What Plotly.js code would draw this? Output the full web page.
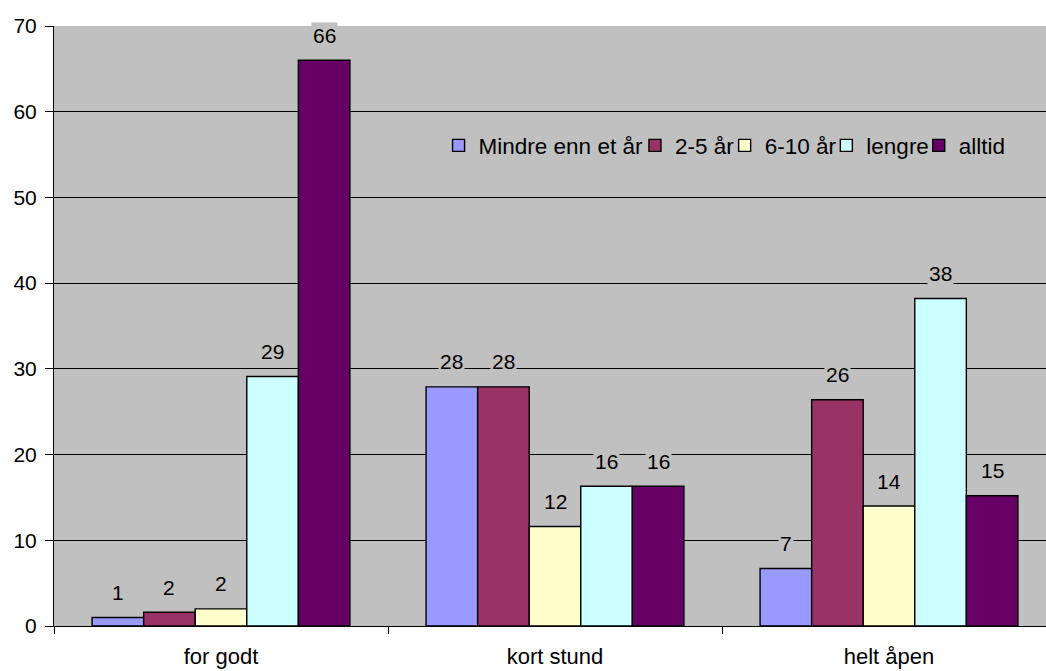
<!DOCTYPE html>
<html><head><meta charset="utf-8">
<script src="https://cdn.plot.ly/plotly-3.0.1.min.js"></script>
<style>html,body{margin:0;padding:0;overflow:hidden;background:#fff}#chart{width:1056px;height:671px}</style>
</head><body><div id="chart"></div>
<script>
const categories = ["for godt", "kort stund", "helt åpen"];
const seriesNames = ["Mindre enn et år", "2-5 år", "6-10 år", "lengre", "alltid"];
const mindreEnnEtAr = [1.0, 27.9, 6.7];
const toFemAr = [1.6, 27.9, 26.4];
const seksTiAr = [2.0, 11.6, 14.0];
const lengre = [29.1, 16.3, 38.2];
const alltid = [66.0, 16.3, 15.2];
const colors = ["#9999FF", "#993366", "#FFFFCC", "#CCFFFF", "#660066"];
const yTicks = [0, 10, 20, 30, 40, 50, 60, 70];

const series = [mindreEnnEtAr, toFemAr, seksTiAr, lengre, alltid];
const font = "Liberation Sans, Arial, sans-serif";
const legendIds = ["legend", "legend2", "legend3", "legend4", "legend5"];
const legendX = [0.3838, 0.5798, 0.6693, 0.7708, 0.8630];

const traces = series.map((vals, i) => ({
  type: "bar", x: categories, y: vals, name: seriesNames[i],
  legend: legendIds[i],
  marker: {color: colors[i], line: {color: "#000", width: 1.4}},
  hoverinfo: "none"
}));

const annotations = [];
series.forEach((vals, i) => {
  vals.forEach((v, j) => {
    annotations.push({
      x: categories[j], y: v, xref: "x", yref: "y",
      xshift: (i - 2) * 51.6,
      text: String(Math.round(v)), showarrow: false,
      yanchor: "middle", yshift: 25,
      bgcolor: "#C0C0C0", borderpad: 1,
      font: {family: font, size: 21, color: "#000"}
    });
  });
});

const layout = {
  width: 1056, height: 671,
  margin: {l: 54, r: 0, t: 26, b: 45},
  paper_bgcolor: "#FFFFFF", plot_bgcolor: "#C0C0C0",
  barmode: "group", bargap: 0.228, bargroupgap: 0,
  font: {family: font, size: 21, color: "#000"},
  showlegend: true,
  xaxis: {type: "category", showline: true, linecolor: "#000", linewidth: 1,
          ticks: "outside", tickson: "boundaries", ticklen: 7, tickcolor: "#000",
          ticklabelstandoff: 11,
          showgrid: false, tickfont: {family: font, size: 22}, fixedrange: true},
  yaxis: {range: [0, 70], tickvals: yTicks, ticktext: yTicks.map(String),
          showline: true, linecolor: "#000", linewidth: 1, ticks: "outside", ticklen: 8,
          tickcolor: "#000", showgrid: true, gridcolor: "#000", gridwidth: 1,
          ticklabelstandoff: 4,
          zeroline: false, tickfont: {family: font, size: 21}, fixedrange: true},
  annotations: annotations
};
legendIds.forEach((id, i) => {
  layout[id] = {orientation: "h", x: legendX[i], xanchor: "left", y: 0.8005, yanchor: "middle",
                bgcolor: "rgba(0,0,0,0)", borderwidth: 0,
                font: {family: font, size: 22.5, color: "#000"}, itemclick: false};
});
Plotly.newPlot("chart", traces, layout, {displayModeBar: false, staticPlot: true});
</script></body></html>
